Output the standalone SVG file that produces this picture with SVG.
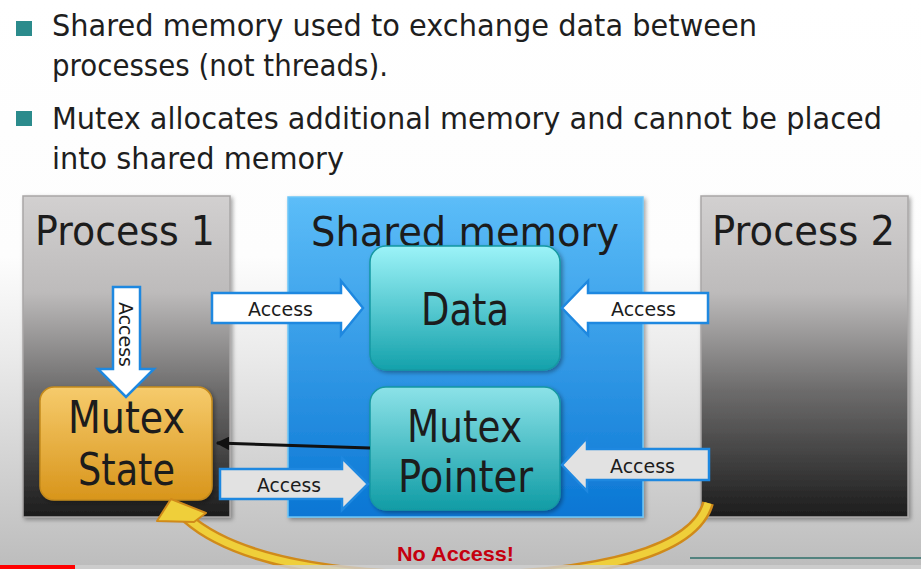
<svg xmlns="http://www.w3.org/2000/svg" width="921" height="569" viewBox="0 0 921 569">
  <defs>
    <linearGradient id="bg" x1="0" y1="0" x2="0" y2="569" gradientUnits="userSpaceOnUse">
      <stop offset="0" stop-color="#ffffff"/>
      <stop offset="0.45" stop-color="#fdfdfd"/>
      <stop offset="0.62" stop-color="#ebebeb"/>
      <stop offset="0.82" stop-color="#d2d2d2"/>
      <stop offset="1" stop-color="#bcbcbc"/>
    </linearGradient>
    <linearGradient id="proc" x1="0" y1="0" x2="0" y2="1">
      <stop offset="0" stop-color="#d2d0d0"/>
      <stop offset="0.3" stop-color="#bdbbbb"/>
      <stop offset="0.6" stop-color="#6e6d6d"/>
      <stop offset="1" stop-color="#1c1c1c"/>
    </linearGradient>
    <linearGradient id="shm" x1="0" y1="0" x2="0" y2="1">
      <stop offset="0" stop-color="#5cbdf8"/>
      <stop offset="1" stop-color="#0a76d4"/>
    </linearGradient>
    <linearGradient id="teal" x1="0" y1="0" x2="0" y2="1">
      <stop offset="0" stop-color="#9cf3f8"/>
      <stop offset="1" stop-color="#14a1ab"/>
    </linearGradient>
    <linearGradient id="teal2" x1="0" y1="0" x2="0" y2="1">
      <stop offset="0" stop-color="#8ce2e8"/>
      <stop offset="1" stop-color="#109ca5"/>
    </linearGradient>
    <linearGradient id="orange" x1="0" y1="0" x2="0" y2="1">
      <stop offset="0" stop-color="#f6cb6c"/>
      <stop offset="1" stop-color="#d8951b"/>
    </linearGradient>
    <marker id="blackHead" viewBox="0 0 10 10" refX="9" refY="5" markerWidth="4.5" markerHeight="4.5" orient="auto">
      <path d="M0,0 L10,5 L0,10 z" fill="#111"/>
    </marker>
    <filter id="shadow" x="-10%" y="-10%" width="120%" height="120%">
      <feDropShadow dx="2" dy="2" stdDeviation="2" flood-color="#000" flood-opacity="0.35"/>
    </filter>
  </defs>
  <style>
    .bullet { font-family: "DejaVu Sans", Verdana, sans-serif; font-size: 30px; fill: #1e1e1e; }
    .title { font-family: "DejaVu Sans", Verdana, sans-serif; font-size: 41px; fill: #1c1c1c; }
    .big { font-family: "DejaVu Sans", Verdana, sans-serif; font-size: 44px; fill: #1c1c1c; }
    .acc { font-family: "DejaVu Sans", Verdana, sans-serif; font-size: 19px; fill: #1c1c1c; }
    .arrowW { fill: #ffffff; stroke: #1e88e0; stroke-width: 2.5; stroke-linejoin: miter; }
    .arrowG { fill: #e2e2e2; stroke: #1e88e0; stroke-width: 2.5; stroke-linejoin: miter; }
    .ribbonOut { fill: none; stroke: #d08a1a; stroke-width: 12; }
    .ribbonIn { fill: none; stroke: #efcf3a; stroke-width: 7; }
  </style>

  <!-- slide background -->
  <rect x="0" y="0" width="921" height="569" fill="url(#bg)"/>

  <!-- bullet points -->
  <g id="bullets">
    <rect x="16" y="21" width="16" height="15" fill="#2b8b8c"/>
    <text class="bullet" x="52" y="36" textLength="705" lengthAdjust="spacingAndGlyphs">Shared memory used to exchange data between</text>
    <text class="bullet" x="52" y="76" textLength="336" lengthAdjust="spacingAndGlyphs">processes (not threads).</text>
    <rect x="16" y="111" width="16" height="15" fill="#2b8b8c"/>
    <text class="bullet" x="52" y="129" textLength="830" lengthAdjust="spacingAndGlyphs">Mutex allocates additional memory and cannot be placed</text>
    <text class="bullet" x="52" y="169" textLength="292" lengthAdjust="spacingAndGlyphs">into shared memory</text>
  </g>

  <!-- containers -->
  <g id="process1">
    <rect x="23" y="196" width="207" height="321" fill="url(#proc)" stroke="#a9a7a7" stroke-width="1.5" filter="url(#shadow)"/>
    <text class="title" x="35" y="245" textLength="180" lengthAdjust="spacingAndGlyphs">Process 1</text>
  </g>
  <g id="shared-memory">
    <rect x="288" y="197" width="355" height="320" fill="url(#shm)" stroke="#6cc6f7" stroke-width="1.5" filter="url(#shadow)"/>
    <text class="title" x="311" y="246" textLength="308" lengthAdjust="spacingAndGlyphs">Shared memory</text>
  </g>
  <g id="process2">
    <rect x="701" y="196" width="207" height="321" fill="url(#proc)" stroke="#a9a7a7" stroke-width="1.5" filter="url(#shadow)"/>
    <text class="title" x="712" y="245" textLength="183" lengthAdjust="spacingAndGlyphs">Process 2</text>
  </g>

  <!-- inner blocks -->
  <g id="data">
    <rect x="370" y="246" width="190" height="124" rx="16" fill="url(#teal)" stroke="#1598a2" stroke-width="1.5" filter="url(#shadow)"/>
    <text class="big" x="421" y="325" textLength="88" lengthAdjust="spacingAndGlyphs">Data</text>
  </g>
  <g id="mutex-pointer">
    <rect x="370" y="387" width="190" height="123" rx="16" fill="url(#teal2)" stroke="#1598a2" stroke-width="1.5" filter="url(#shadow)"/>
    <text class="big" x="407" y="442" textLength="115" lengthAdjust="spacingAndGlyphs">Mutex</text>
    <text class="big" x="398" y="492" textLength="135" lengthAdjust="spacingAndGlyphs">Pointer</text>
  </g>
  <g id="mutex-state">
    <rect x="40" y="387" width="172" height="113" rx="14" fill="url(#orange)" stroke="#c48a1d" stroke-width="1.5" filter="url(#shadow)"/>
    <text class="big" x="68" y="433" textLength="117" lengthAdjust="spacingAndGlyphs">Mutex</text>
    <text class="big" x="78" y="485" textLength="97" lengthAdjust="spacingAndGlyphs">State</text>
  </g>

  <!-- connectors -->
  <g id="connectors">
    <!-- Process 1 -> Data -->
    <polygon class="arrowW" points="212,293 341,293 341,281 363,308 341,335 341,323 212,323"/>
    <text class="acc" x="248" y="316" textLength="65" lengthAdjust="spacingAndGlyphs">Access</text>
    <!-- Process 2 -> Data -->
    <polygon class="arrowW" points="708,293 588,293 588,281 562,308 588,335 588,323 708,323"/>
    <text class="acc" x="611" y="316" textLength="65" lengthAdjust="spacingAndGlyphs">Access</text>
    <!-- Process 1 -> Mutex Pointer -->
    <polygon class="arrowG" points="220,469 342,469 342,458 368,484 342,510 342,499 220,499"/>
    <text class="acc" x="257" y="492" textLength="64" lengthAdjust="spacingAndGlyphs">Access</text>
    <!-- Process 2 -> Mutex Pointer -->
    <polygon class="arrowG" points="709,449 587,449 587,438 562,465 587,491 587,480 709,480"/>
    <text class="acc" x="610" y="473" textLength="65" lengthAdjust="spacingAndGlyphs">Access</text>
    <!-- Process 1 -> Mutex State -->
    <polygon class="arrowW" points="113,287 140,287 140,369 154,369 126,397 98,369 113,369"/>
    <text class="acc" transform="translate(119,302) rotate(90)" x="0" y="0" textLength="65" lengthAdjust="spacingAndGlyphs">Access</text>
    <!-- Mutex Pointer refers to Mutex State -->
    <line x1="370" y1="448" x2="217" y2="443" stroke="#111" stroke-width="3" marker-end="url(#blackHead)"/>
    <!-- Process 2 cannot reach Mutex State -->
    <g id="no-access">
      <path class="ribbonOut" d="M708,503 C692,560 565,578 445,577 C330,576 235,560 187,518"/>
      <path class="ribbonIn" d="M708,503 C692,560 565,578 445,577 C330,576 235,560 187,518"/>
      <polygon points="171,499 206,513 194,522 157,521" fill="#efcf3a" stroke="#d08a1a" stroke-width="2" stroke-linejoin="round"/>
    </g>
    <text x="397" y="561" font-family="Liberation Sans, Arial, sans-serif" font-weight="bold" font-size="21" fill="#c5000f" textLength="117" lengthAdjust="spacingAndGlyphs">No Access!</text>
  </g>

  <!-- playback bar -->
  <line x1="690" y1="558" x2="921" y2="558" stroke="#2f6f6a" stroke-width="1.5"/>
  <rect x="0" y="565" width="921" height="4" fill="#cfcfcf" opacity="0.8"/>
  <rect x="0" y="565" width="75" height="4" fill="#ff0000"/>
</svg>
